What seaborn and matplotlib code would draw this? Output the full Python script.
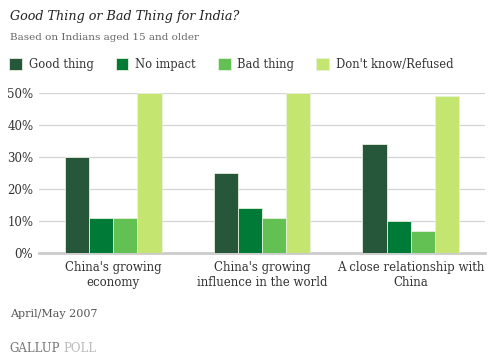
import pandas as pd
import seaborn as sns
import matplotlib.pyplot as plt
from matplotlib.ticker import FuncFormatter

# data
categories = ["China's growing\neconomy", "China's growing\ninfluence in the world", "A close relationship with\nChina"]
responses = ["Good thing", "No impact", "Bad thing", "Don't know/Refused"]
good_thing = [30, 25, 34]
no_impact = [11, 14, 10]
bad_thing = [11, 11, 7]
dont_know = [50, 50, 49]

colors = ["#27573a", "#007a37", "#62c152", "#c5e571"]

rows = []
for resp, vals in zip(responses, [good_thing, no_impact, bad_thing, dont_know]):
    for cat, v in zip(categories, vals):
        rows.append({"category": cat, "response": resp, "pct": v})
df = pd.DataFrame(rows)

sns.set_style("white")
plt.rcParams['font.family'] = ['DejaVu Serif']

fig = plt.figure(figsize=(4.92, 3.6), dpi=100)
ax = fig.add_axes([0.079, 0.297, 0.907, 0.445])

sns.barplot(data=df, x="category", y="pct", hue="response", hue_order=responses,
            palette=colors, saturation=1, width=0.65, errorbar=None, ax=ax,
            edgecolor="#e6f0dc", linewidth=0.6, zorder=3)

ax.set_xlim(-0.5, 2.5)
ax.set_ylim(0, 50)
ax.set_yticks([0, 10, 20, 30, 40, 50])
ax.yaxis.set_major_formatter(FuncFormatter(lambda v, p: f"{int(v)}%"))
ax.grid(axis='y', color='#d4d4d4', linewidth=0.9, zorder=0)
ax.set_axisbelow(True)
for s in ['top', 'right', 'left']:
    ax.spines[s].set_visible(False)
ax.spines['bottom'].set_color('#cccccc')
ax.spines['bottom'].set_linewidth(2)
ax.tick_params(axis='both', length=0, labelsize=8.5, colors='#333333')
ax.tick_params(axis='y', pad=4)
ax.tick_params(axis='x', pad=6)
ax.set_xlabel("")
ax.set_ylabel("")

handles, labels = ax.get_legend_handles_labels()
ax.get_legend().remove()
fig.legend(handles, labels, loc='upper left', bbox_to_anchor=(-0.002, 0.868), ncol=4,
           frameon=False, fontsize=8.3, handlelength=1.1, handleheight=1.1,
           handletextpad=0.6, columnspacing=1.9, labelcolor='#333333')

fig.text(0.02, 0.955, "Good Thing or Bad Thing for India?", fontsize=9.2,
         style='italic', color='#222222', va='center')
fig.text(0.02, 0.895, "Based on Indians aged 15 and older", fontsize=7.5,
         color='#666666', va='center')
fig.text(0.02, 0.128, "April/May 2007", fontsize=8, color='#555555', va='center')
fig.text(0.02, 0.033, "GALLUP", fontsize=8.5, color='#777777', va='center')
fig.text(0.128, 0.033, "POLL", fontsize=8.5, color='#bbbbbb', va='center')

fig.savefig("out.png", dpi=100)
